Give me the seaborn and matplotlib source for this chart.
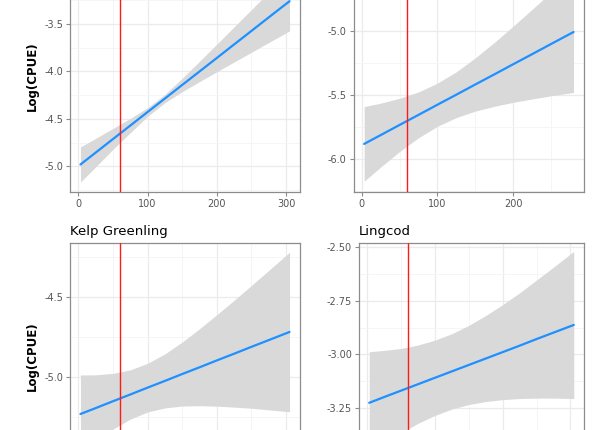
import numpy as np
import pandas as pd
import matplotlib
matplotlib.use("Agg")
import matplotlib.pyplot as plt
import seaborn as sns

# values
depth = [3, 25, 50, 75, 100, 125, 150, 175, 200, 225, 250, 275, 305]
depth_tr = [3, 25, 50, 75, 100, 125, 150, 175, 200, 225, 250, 280]

# top left panel (title cut off)
tl_fit = [-4.98, -4.855, -4.712, -4.570, -4.427, -4.285, -4.142, -4.000, -3.858, -3.715, -3.573, -3.430, -3.26]
tl_hi = [-4.795, -4.705, -4.60, -4.495, -4.381, -4.241, -4.071, -3.893, -3.712, -3.530, -3.348, -3.165, -2.947]
tl_lo = [-5.165, -5.005, -4.82, -4.645, -4.473, -4.329, -4.213, -4.107, -4.003, -3.900, -3.798, -3.695, -3.573]

# top right panel (title cut off)
tr_fit = [-5.88, -5.811, -5.732, -5.654, -5.575, -5.497, -5.418, -5.340, -5.261, -5.183, -5.104, -5.01]
tr_hi = [-5.59, -5.563, -5.525, -5.476, -5.407, -5.319, -5.211, -5.092, -4.965, -4.835, -4.702, -4.54]
tr_lo = [-6.17, -6.059, -5.939, -5.832, -5.743, -5.675, -5.625, -5.588, -5.557, -5.531, -5.506, -5.48]

# Kelp Greenling
kg_fit = [-5.233, -5.196, -5.153, -5.111, -5.068, -5.026, -4.983, -4.941, -4.898, -4.856, -4.813, -4.771, -4.72]
kg_hi = [-4.989, -4.988, -4.979, -4.957, -4.916, -4.857, -4.783, -4.700, -4.612, -4.522, -4.429, -4.335, -4.222]
kg_lo = [-5.477, -5.404, -5.327, -5.265, -5.220, -5.195, -5.183, -5.181, -5.184, -5.190, -5.197, -5.207, -5.219]

# Lingcod
lc_fit = [-3.227, -3.200, -3.170, -3.140, -3.110, -3.080, -3.050, -3.020, -2.990, -2.960, -2.929, -2.899, -2.863]
lc_hi = [-2.988, -2.982, -2.973, -2.957, -2.934, -2.904, -2.865, -2.819, -2.768, -2.713, -2.653, -2.593, -2.519]
lc_lo = [-3.466, -3.418, -3.367, -3.323, -3.286, -3.256, -3.235, -3.221, -3.212, -3.207, -3.205, -3.205, -3.207]

cutoff = 60

sns.set_theme(style="whitegrid")
plt.rcParams['font.family'] = ['DejaVu Sans']

W, H = 615, 430
fig = plt.figure(figsize=(W / 100, H / 100), dpi=100)


def panel(box, x, fit, hi, lo, xlim, ylim, yticks, ylabels, xticks, title=None, ylab=False, xlabels=True):
    l, t, r, b = box
    ax = fig.add_axes([l / W, 1 - b / H, (r - l) / W, (b - t) / H])
    ax.fill_between(x, lo, hi, color="#D9D9D9", lw=0, zorder=2)
    df = pd.DataFrame({"x": x, "y": fit})
    sns.lineplot(data=df, x="x", y="y", ax=ax, color="#1E90FF", lw=1.6, zorder=3)
    ax.axvline(cutoff, color="#FF1A1A", lw=1.0, zorder=4)
    ax.set_xticks(xticks)
    ax.set_xticks([v + 50 for v in xticks], minor=True)
    ax.set_yticks(yticks)
    ax.set_yticklabels(ylabels)
    step = yticks[1] - yticks[0]
    ax.set_yticks([v + step / 2 for v in [yticks[0] - step] + list(yticks)], minor=True)
    ax.set_xlim(xlim)
    ax.set_ylim(ylim)
    ax.grid(True, which="major", color="#EBEBEB", lw=0.9)
    ax.grid(True, which="minor", color="#F4F4F4", lw=0.6)
    ax.set_facecolor("white")
    for s in ax.spines.values():
        s.set_color("#8C8C8C")
        s.set_linewidth(0.9)
    ax.tick_params(axis="both", which="major", length=3, width=0.8, color="#8C8C8C",
                   labelsize=7, labelcolor="#555555", pad=2, left=True, bottom=True)
    ax.tick_params(axis="x", labelbottom=xlabels)
    ax.tick_params(which="minor", length=0)
    ax.set_xlabel("")
    ax.set_ylabel("Log(CPUE)" if ylab else "", fontsize=8.5, fontweight="bold", color="black", labelpad=4)
    if title:
        ax.set_title(title, loc="left", fontsize=9.5, color="black", pad=6)
    return ax


panel((70, -40, 300, 192), depth, tl_fit, tl_hi, tl_lo, (-12.1, 320.1), (-5.27, -2.826),
      [-5.0, -4.5, -4.0, -3.5], ["-5.0", "-4.5", "-4.0", "-3.5"], [0, 100, 200, 300], ylab=True)
panel((353.7, -40, 584, 192), depth_tr, tr_fit, tr_hi, tr_lo, (-10.85, 293.85), (-6.254, -4.45),
      [-6.0, -5.5, -5.0], ["-6.0", "-5.5", "-5.0"], [0, 100, 200])
panel((70, 243, 300, 470), depth, kg_fit, kg_hi, kg_lo, (-12.1, 320.1), (-5.583, -4.164),
      [-5.0, -4.5], ["-5.0", "-4.5"], [0, 100, 200, 300], title="Kelp Greenling", ylab=True,
      xlabels=False)
panel((359, 243, 584, 470), depth, lc_fit, lc_hi, lc_lo, (-12.1, 320.1), (-3.541, -2.48),
      [-3.25, -3.00, -2.75, -2.50], ["-3.25", "-3.00", "-2.75", "-2.50"], [0, 100, 200, 300],
      title="Lingcod", xlabels=False)

fig.savefig("out.png", dpi=100)
